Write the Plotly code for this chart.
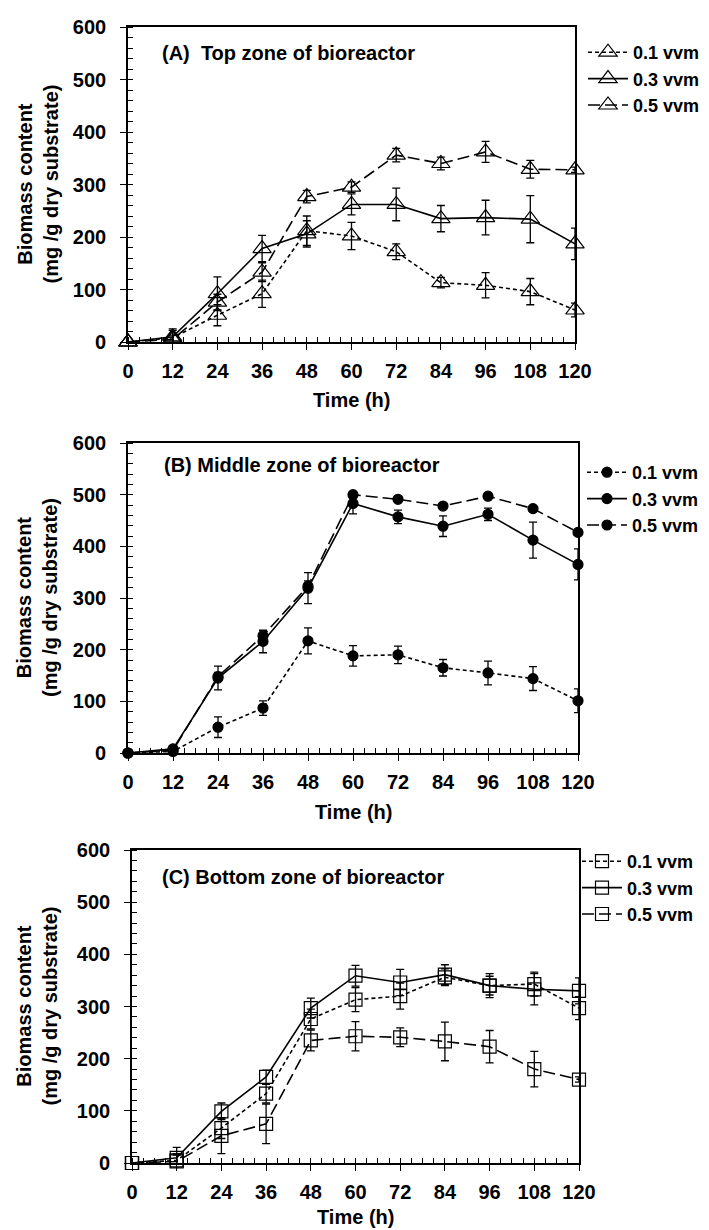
import plotly.graph_objects as go

# ---------------- data ----------------
time_h = [0, 12, 24, 36, 48, 60, 72, 84, 96, 108, 120]
series_names = ["0.1 vvm", "0.3 vvm", "0.5 vvm"]

# (A) Top zone
top_01 = [0, 8, 51, 92, 212, 202, 172, 113, 108, 96, 61]
top_01_err = [0, 17, 20, 26, 28, 26, 15, 10, 24, 25, 13]
top_03 = [0, 10, 92, 178, 206, 262, 262, 235, 237, 234, 187]
top_03_err = [0, 12, 32, 25, 25, 20, 31, 25, 33, 45, 30]
top_05 = [0, 5, 76, 133, 277, 295, 356, 340, 362, 329, 328]
top_05_err = [0, 8, 15, 18, 12, 10, 13, 12, 20, 17, 5]

# (B) Middle zone
mid_01 = [0, 3, 50, 87, 217, 188, 190, 165, 155, 144, 101]
mid_01_err = [0, 5, 20, 14, 25, 20, 17, 16, 23, 23, 23]
mid_03 = [0, 8, 145, 216, 319, 483, 457, 439, 462, 412, 365]
mid_03_err = [0, 5, 23, 22, 30, 20, 13, 20, 12, 35, 30]
mid_05 = [0, 5, 148, 227, 323, 500, 491, 478, 497, 473, 427]
mid_05_err = [0, 5, 8, 10, 10, 5, 5, 5, 5, 5, 5]

# (C) Bottom zone
bot_01 = [0, 5, 67, 133, 276, 313, 320, 356, 340, 343, 297]
bot_01_err = [0, 10, 20, 18, 19, 23, 25, 16, 18, 23, 22]
bot_03 = [0, 10, 99, 165, 297, 359, 346, 361, 340, 333, 330]
bot_03_err = [0, 20, 16, 13, 19, 20, 25, 19, 23, 30, 25]
bot_05 = [0, 3, 52, 75, 235, 243, 241, 233, 223, 180, 160]
bot_05_err = [0, 15, 34, 38, 20, 28, 18, 37, 31, 34, 5]

panel_titles = ["(A)  Top zone of bioreactor",
                "(B) Middle zone of bioreactor",
                "(C) Bottom zone of bioreactor"]
x_tickvals = time_h
y_tickvals = [0, 100, 200, 300, 400, 500, 600]

# ---------------- styling ----------------
FONT = "Liberation Sans, Arial, sans-serif"
W, H = 709, 1230
dashes = ["4px,3px", "solid", "12px,5px"]

panels = [
    dict(vals=[(top_01, top_01_err), (top_03, top_03_err), (top_05, top_05_err)],
         symbol="triangle-up-open", msize=16,
         px=(128, 575), py=(27, 342), leg_x=583, leg_y=34, title_y=53, title_x=160, xt_y=400),
    dict(vals=[(mid_01, mid_01_err), (mid_03, mid_03_err), (mid_05, mid_05_err)],
         symbol="circle", msize=10,
         px=(128, 578), py=(443, 753), leg_x=582, leg_y=454, title_y=465, title_x=162, xt_y=812),
    dict(vals=[(bot_01, bot_01_err), (bot_03, bot_03_err), (bot_05, bot_05_err)],
         symbol="square-open", msize=13,
         px=(132, 579), py=(850, 1163), leg_x=577, leg_y=843, title_y=877, title_x=160, xt_y=1217),
]

fig = go.Figure()
layout = dict(width=W, height=H, margin=dict(l=0, r=0, t=0, b=0, autoexpand=False),
              paper_bgcolor="white", plot_bgcolor="white",
              font=dict(family=FONT, size=18, color="black", weight="bold"),
              showlegend=True)
annotations = []

for i, p in enumerate(panels):
    n = "" if i == 0 else str(i + 1)
    xa, ya = "x" + n, "y" + n
    leg = "legend" + n
    for j, (vals, errs) in enumerate(p["vals"]):
        fig.add_trace(go.Scatter(
            x=time_h, y=vals, name=series_names[j], mode="lines+markers",
            xaxis=xa, yaxis=ya, legend=leg, cliponaxis=False,
            line=dict(color="black", width=1.6, dash=dashes[j]),
            marker=dict(symbol=p["symbol"], size=p["msize"], color="black",
                        line=dict(color="black", width=1.2)),
            error_y=dict(type="data", array=errs, visible=True, color="black",
                         thickness=1.3, width=4),
        ))
    x0, x1 = p["px"]
    y0, y1 = p["py"]
    common = dict(showline=True, linecolor="black", linewidth=1.6, mirror=True,
                  showgrid=False, zeroline=False, ticks="outside", ticklen=6,
                  tickwidth=1.3, tickcolor="black", automargin=False,
                  tickfont=dict(family=FONT, size=20, color="black", weight="bold"))
    layout["xaxis" + n] = dict(common, domain=[x0 / W, x1 / W], range=[0, 120],
                               anchor=ya, tickvals=x_tickvals, ticklabelstandoff=4,
                               minor=dict(ticks="inside", dtick=3, ticklen=5, tickcolor="black", tickwidth=1))
    layout["yaxis" + n] = dict(common, domain=[1 - y1 / H, 1 - y0 / H], range=[0, 600],
                               anchor=xa, tickvals=y_tickvals, ticklabelstandoff=10,
                               minor=dict(ticks="inside", dtick=20, ticklen=5, tickcolor="black", tickwidth=1))
    layout[leg] = dict(x=p["leg_x"] / W, y=1 - p["leg_y"] / H, xanchor="left", yanchor="top",
                       bgcolor="rgba(0,0,0,0)", borderwidth=0, tracegroupgap=0,
                       itemsizing="trace",
                       font=dict(family=FONT, size=18, color="black", weight="bold"),
                       itemwidth=40)
    annotations.append(dict(text=panel_titles[i], x=p["title_x"] / W, y=1 - p["title_y"] / H,
                            xref="paper", yref="paper", xanchor="left", yanchor="middle",
                            showarrow=False, font=dict(family=FONT, size=20, color="black", weight="bold")))
    annotations.append(dict(text="Time (h)", x=(x0 + x1) / 2 / W, y=1 - p["xt_y"] / H,
                            xref="paper", yref="paper", xanchor="center", yanchor="middle",
                            showarrow=False, font=dict(family=FONT, size=20, color="black", weight="bold")))
    annotations.append(dict(text="Biomass content<br>(mg /g dry substrate)", x=37 / W,
                            y=1 - (y0 + y1) / 2 / H, xref="paper", yref="paper",
                            xanchor="center", yanchor="middle", textangle=-90, showarrow=False,
                            font=dict(family=FONT, size=20, color="black", weight="bold")))

layout["annotations"] = annotations
fig.update_layout(**layout)
fig.write_html("out.html")
